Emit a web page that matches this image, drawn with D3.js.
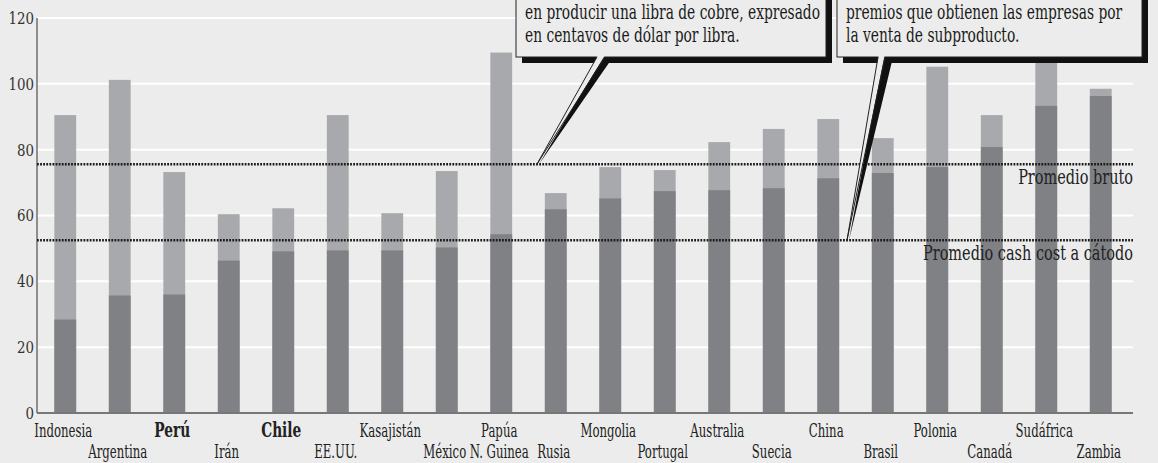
<!DOCTYPE html>
<html><head><meta charset="utf-8">
<script src="https://cdn.jsdelivr.net/npm/d3@7"></script>
<style>
html,body{margin:0;padding:0;background:#ebeceb;}
svg{display:block;}
text{font-family:"DejaVu Serif Condensed","DejaVu Serif",serif;}
</style></head><body>
<svg id="chart" width="1158" height="463"></svg>
<script>
// ---- data ----
const categories = ["Indonesia","Argentina","Perú","Irán","Chile","EE.UU.","Kasajistán","México","Papúa N. Guinea","Rusia","Mongolia","Portugal","Australia","Suecia","China","Brasil","Polonia","Canadá","Sudáfrica","Zambia"];
const labelLines = [["Indonesia"],["Argentina"],["Perú"],["Irán"],["Chile"],["EE.UU."],["Kasajistán"],["México"],["Papúa","N. Guinea"],["Rusia"],["Mongolia"],["Portugal"],["Australia"],["Suecia"],["China"],["Brasil"],["Polonia"],["Canadá"],["Sudáfrica"],["Zambia"]];
const boldCategories = ["Perú","Chile"];
const cashCost  = [28.4, 35.7, 36.0, 46.3, 49.1, 49.4, 49.4, 50.3, 54.3, 61.9, 65.2, 67.4, 67.7, 68.3, 71.3, 72.9, 74.7, 80.8, 93.3, 96.3];
const grossCost = [90.5, 101.2, 73.2, 60.4, 62.2, 90.5, 60.7, 73.5, 109.5, 66.8, 74.7, 73.8, 82.3, 86.3, 89.3, 83.5, 105.2, 90.5, 112, 98.5];
const yTicks = [0, 20, 40, 60, 80, 100, 120];
const averageLabels = ["Promedio bruto", "Promedio cash cost a cátodo"];
const averageValues = [75.6, 52.5];
const calloutTexts = [
  ["en producir una libra de cobre, expresado", "en centavos de dólar por libra."],
  ["premios que obtienen las empresas por", "la venta de subproducto."]
];

// ---- layout ----
const svg = d3.select("#chart");
const bg = "#ebeceb";
const x0 = 37, x1 = 1133;
const y = d3.scaleLinear().domain([0, 120]).range([413, 18]);
const x = d3.scaleBand().domain(categories).range([38, 1128]).paddingInner(0.6).paddingOuter(0.3);

// condense a group of texts uniformly so that a sample text gets a given width
function condense(sel, sampleNode, targetWidth) {
  const f = targetWidth / sampleNode.getComputedTextLength();
  sel.each(function() {
    const w = this.getComputedTextLength();
    d3.select(this).attr("textLength", w * f).attr("lengthAdjust", "spacingAndGlyphs");
  });
}

svg.append("rect").attr("width", 1158).attr("height", 463).attr("fill", bg);

// gridlines
svg.append("g").selectAll("line").data(yTicks.filter(d => d > 0)).join("line")
  .attr("x1", x0).attr("x2", x1)
  .attr("y1", d => y(d)).attr("y2", d => y(d))
  .attr("stroke", "#ffffff").attr("stroke-width", 2);

// bars
const bars = svg.append("g");
bars.selectAll("rect.gross").data(categories).join("rect").attr("class", "gross")
  .attr("x", d => x(d)).attr("width", x.bandwidth())
  .attr("y", (d, i) => y(grossCost[i])).attr("height", (d, i) => y(0) - y(grossCost[i]))
  .attr("fill", "#a8a9ac");
bars.selectAll("rect.cash").data(categories).join("rect").attr("class", "cash")
  .attr("x", d => x(d)).attr("width", x.bandwidth())
  .attr("y", (d, i) => y(cashCost[i])).attr("height", (d, i) => y(0) - y(cashCost[i]))
  .attr("fill", "#808185");

// y axis
const yAxis = svg.append("g").attr("transform", `translate(${x0},0)`)
  .call(d3.axisLeft(y).tickValues(yTicks).tickSize(0).tickPadding(3));
yAxis.select(".domain").remove();
yAxis.attr("font-family", null).attr("font-size", null);
const yTexts = yAxis.selectAll("text").attr("font-size", 17).attr("fill", "#333");
condense(yTexts, yTexts.filter(d => d === 80).node(), 17);
svg.append("line").attr("x1", x0).attr("x2", x0).attr("y1", y(120)).attr("y2", y(0))
  .attr("stroke", "#6f6f6f").attr("stroke-width", 1.5);

// x axis
const xAxis = svg.append("g").attr("transform", `translate(0,${y(0)})`)
  .call(d3.axisBottom(x).tickSize(0).tickFormat(""));
xAxis.select(".domain").remove();
xAxis.attr("font-family", null).attr("font-size", null);
svg.append("line").attr("x1", x0).attr("x2", x1).attr("y1", y(0)).attr("y2", y(0))
  .attr("stroke", "#777").attr("stroke-width", 2);
xAxis.selectAll(".tick").each(function(d, i) {
  const g = d3.select(this);
  g.selectAll("text").remove();
  const bold = boldCategories.includes(d);
  labelLines[i].forEach((ln, j) => {
    const row = (i % 2 === 0 ? 0 : 1) + j;
    g.append("text").attr("class", bold ? "xl bold" : "xl")
      .attr("x", -2).attr("y", row === 0 ? 24 : 45)
      .attr("text-anchor", "middle")
      .attr("font-size", bold ? 20 : 19)
      .attr("font-weight", bold ? "bold" : "normal")
      .attr("fill", "#222").text(ln);
  });
});
const xlNormal = xAxis.selectAll("text.xl:not(.bold)");
condense(xlNormal, xlNormal.filter(function() { return this.textContent === "Indonesia"; }).node(), 58);
const xlBold = xAxis.selectAll("text.bold");
condense(xlBold, xlBold.filter(function() { return this.textContent === "Chile"; }).node(), 40);

// average lines
const avg = svg.append("g");
avg.selectAll("line").data(averageValues).join("line")
  .attr("x1", x0).attr("x2", x1)
  .attr("y1", d => y(d)).attr("y2", d => y(d))
  .attr("stroke", "#1a1a1a").attr("stroke-width", 2.5).attr("stroke-dasharray", "1.8,1.3");
const avgTexts = avg.selectAll("text").data(averageValues).join("text")
  .attr("x", x1).attr("y", d => y(d) + 20)
  .attr("text-anchor", "end").attr("font-size", 21).attr("fill", "#222")
  .text((d, i) => averageLabels[i]);
condense(avgTexts, avgTexts.nodes()[1], 210);

// callouts
const calloutTextNodes = [];
function callout(box, pointer, lines) {
  const g = svg.append("g");
  const s = 6;
  g.append("rect").attr("x", box.x + s).attr("y", box.y + s).attr("width", box.w).attr("height", box.h).attr("fill", "#111");
  g.append("polygon").attr("points", pointer.shadow.map(p => p.join(",")).join(" ")).attr("fill", "#111");
  g.append("rect").attr("x", box.x).attr("y", box.y).attr("width", box.w).attr("height", box.h)
    .attr("fill", bg).attr("stroke", "#222").attr("stroke-width", 1);
  const [a, b, t] = pointer.light;
  g.append("polygon").attr("points", [[a[0] + 0.5, a[1] - 1], [b[0] - 0.5, b[1] - 1], t].map(p => p.join(",")).join(" ")).attr("fill", bg);
  g.append("path").attr("d", `M${a[0]},${a[1]}L${t[0]},${t[1]}L${b[0]},${b[1]}`)
    .attr("fill", "none").attr("stroke", "#222").attr("stroke-width", 1);
  lines.forEach((ln, i) => {
    const tx = g.append("text").attr("x", box.x + 9).attr("y", box.y + 29 + i * 23)
      .attr("font-size", 20).attr("fill", "#1a1a1a").text(ln);
    calloutTextNodes.push(tx.node());
  });
}
callout({x: 516, y: -10, w: 310, h: 67},
  {light: [[597, 57], [605, 57], [537, y(averageValues[0])]], shadow: [[603, 57], [613, 57], [539, y(averageValues[0])]]},
  calloutTexts[0]);
callout({x: 837, y: -10, w: 305, h: 67},
  {light: [[878, 57], [885, 57], [847, y(averageValues[1])]], shadow: [[883, 57], [893, 57], [849, y(averageValues[1])]]},
  calloutTexts[1]);
const cSel = d3.selectAll(calloutTextNodes);
condense(cSel, calloutTextNodes[0], 295);
</script>
</body></html>
